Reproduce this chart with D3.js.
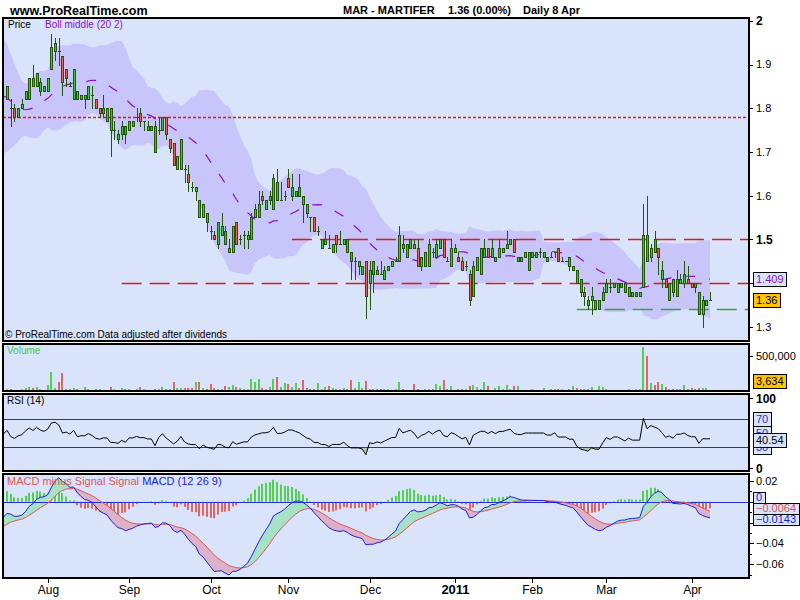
<!DOCTYPE html>
<html>
<head>
<meta charset="utf-8">
<title>MAR - MARTIFER</title>
<script src="https://cdn.jsdelivr.net/npm/d3@7/dist/d3.min.js"></script>
<style>
  html, body { margin: 0; padding: 0; background: #ffffff; }
  svg { display: block; font-family: Arial, "Liberation Sans", Helvetica, sans-serif; }
</style>
</head>
<body>
<svg id="chart" width="800" height="600"></svg>
<script>
// ---- MAR - MARTIFER, daily sessions from 16 Jul 2010 to 8 Apr 2011 ----
const firstSession = "2010-07-16";
const monthLabels = ["Aug", "Sep", "Oct", "Nov", "Dec", "2011", "Feb", "Mar", "Apr"];

const open = [
  1.82,1.80,1.80,1.78,1.80,1.82,1.82,1.87,1.85,1.84,
  1.84,1.84,1.89,1.93,1.93,1.92,1.89,1.85,1.82,1.84,
  1.82,1.82,1.82,1.83,1.82,1.80,1.79,1.77,1.80,1.75,
  1.73,1.74,1.76,1.75,1.76,1.78,1.79,1.77,1.75,1.75,
  1.76,1.75,1.75,1.78,1.73,1.72,1.66,1.66,1.66,1.65,
  1.62,1.61,1.59,1.55,1.56,1.52,1.51,1.49,1.51,1.52,
  1.47,1.47,1.54,1.50,1.51,1.50,1.50,1.55,1.55,1.60,
  1.57,1.59,1.57,1.63,1.59,1.60,1.64,1.60,1.60,1.62,
  1.60,1.58,1.55,1.55,1.52,1.48,1.49,1.48,1.47,1.51,
  1.49,1.49,1.50,1.47,1.45,1.44,1.42,1.45,1.40,1.45,
  1.42,1.42,1.41,1.43,1.44,1.45,1.45,1.49,1.46,1.48,
  1.49,1.48,1.44,1.44,1.44,1.47,1.46,1.48,1.50,1.45,
  1.44,1.48,1.46,1.45,1.44,1.42,1.37,1.43,1.42,1.46,
  1.48,1.46,1.45,1.46,1.47,1.48,1.49,1.50,1.45,1.45,
  1.46,1.43,1.46,1.46,1.47,1.46,1.45,1.46,1.47,1.48,
  1.45,1.45,1.46,1.43,1.43,1.41,1.38,1.35,1.36,1.34,
  1.34,1.36,1.38,1.39,1.39,1.38,1.40,1.40,1.37,1.37,
  1.37,1.37,1.39,1.51,1.46,1.50,1.48,1.41,1.41,1.36,
  1.41,1.37,1.40,1.40,1.41,1.40,1.40,1.38,1.33,1.35,
  1.36
];
const high = [
  1.85,1.82,1.81,1.80,1.82,1.84,1.87,1.90,1.88,1.87,
  1.85,1.87,1.97,1.96,1.96,1.92,1.89,1.86,1.89,1.84,
  1.83,1.83,1.85,1.85,1.82,1.80,1.83,1.80,1.80,1.77,
  1.75,1.77,1.76,1.77,1.77,1.80,1.80,1.77,1.77,1.76,
  1.77,1.78,1.78,1.78,1.73,1.72,1.69,1.73,1.67,1.67,
  1.63,1.62,1.59,1.58,1.56,1.53,1.52,1.54,1.56,1.53,
  1.50,1.53,1.54,1.51,1.52,1.52,1.56,1.58,1.61,1.61,
  1.59,1.61,1.65,1.66,1.63,1.61,1.66,1.65,1.61,1.65,
  1.60,1.58,1.55,1.55,1.53,1.50,1.52,1.51,1.49,1.51,
  1.52,1.50,1.50,1.47,1.46,1.45,1.44,1.45,1.45,1.45,
  1.44,1.45,1.44,1.44,1.45,1.46,1.53,1.51,1.49,1.50,
  1.50,1.50,1.46,1.47,1.50,1.48,1.50,1.50,1.50,1.46,
  1.50,1.49,1.47,1.46,1.45,1.43,1.45,1.46,1.48,1.50,
  1.48,1.50,1.46,1.50,1.48,1.52,1.50,1.50,1.46,1.46,
  1.47,1.47,1.47,1.47,1.48,1.47,1.46,1.47,1.47,1.48,
  1.46,1.45,1.46,1.44,1.43,1.41,1.39,1.37,1.39,1.36,
  1.36,1.39,1.41,1.41,1.40,1.40,1.40,1.40,1.39,1.38,
  1.38,1.38,1.58,1.60,1.49,1.52,1.48,1.45,1.41,1.40,
  1.41,1.43,1.42,1.45,1.44,1.40,1.40,1.38,1.37,1.36,
  1.38
];
const low = [
  1.82,1.76,1.77,1.78,1.80,1.82,1.82,1.85,1.85,1.83,
  1.84,1.84,1.89,1.91,1.90,1.83,1.85,1.85,1.82,1.82,
  1.82,1.80,1.82,1.80,1.80,1.78,1.78,1.77,1.69,1.73,
  1.72,1.73,1.72,1.75,1.76,1.77,1.76,1.75,1.75,1.75,
  1.70,1.74,1.75,1.73,1.70,1.67,1.66,1.66,1.63,1.61,
  1.61,1.59,1.55,1.55,1.52,1.50,1.50,1.48,1.51,1.49,
  1.47,1.47,1.49,1.49,1.48,1.48,1.50,1.55,1.55,1.58,
  1.57,1.58,1.57,1.59,1.59,1.59,1.62,1.59,1.60,1.60,
  1.54,1.55,1.52,1.52,1.51,1.48,1.49,1.48,1.47,1.47,
  1.49,1.49,1.47,1.41,1.41,1.42,1.42,1.32,1.34,1.38,
  1.42,1.42,1.41,1.43,1.44,1.45,1.45,1.47,1.46,1.48,
  1.48,1.44,1.43,1.44,1.44,1.46,1.46,1.48,1.46,1.45,
  1.44,1.47,1.45,1.43,1.43,1.35,1.37,1.43,1.42,1.46,
  1.46,1.46,1.45,1.46,1.47,1.48,1.49,1.47,1.45,1.45,
  1.46,1.43,1.46,1.46,1.46,1.46,1.45,1.46,1.46,1.45,
  1.45,1.45,1.43,1.43,1.40,1.37,1.35,1.34,1.33,1.34,
  1.34,1.36,1.38,1.38,1.39,1.38,1.39,1.38,1.37,1.37,
  1.37,1.37,1.39,1.45,1.45,1.47,1.42,1.39,1.39,1.36,
  1.37,1.37,1.40,1.39,1.40,1.39,1.38,1.33,1.30,1.35,
  1.36
];
const close = [
  1.85,1.80,1.78,1.80,1.81,1.84,1.87,1.85,1.88,1.86,
  1.85,1.87,1.94,1.95,1.93,1.86,1.87,1.85,1.89,1.82,
  1.83,1.83,1.85,1.83,1.80,1.79,1.80,1.80,1.75,1.75,
  1.74,1.76,1.74,1.77,1.77,1.78,1.77,1.77,1.76,1.76,
  1.70,1.75,1.78,1.74,1.71,1.67,1.69,1.73,1.66,1.63,
  1.62,1.62,1.55,1.58,1.54,1.52,1.50,1.54,1.53,1.49,
  1.48,1.53,1.49,1.50,1.51,1.51,1.55,1.57,1.58,1.59,
  1.59,1.60,1.64,1.59,1.59,1.60,1.62,1.62,1.61,1.60,
  1.58,1.56,1.55,1.52,1.52,1.50,1.50,1.48,1.49,1.49,
  1.49,1.50,1.47,1.45,1.45,1.45,1.44,1.37,1.43,1.42,
  1.43,1.42,1.43,1.44,1.45,1.45,1.51,1.48,1.49,1.50,
  1.48,1.44,1.46,1.47,1.49,1.47,1.49,1.50,1.46,1.45,
  1.48,1.47,1.45,1.43,1.44,1.36,1.44,1.46,1.48,1.48,
  1.46,1.48,1.46,1.48,1.48,1.49,1.50,1.47,1.46,1.46,
  1.47,1.47,1.47,1.47,1.47,1.47,1.46,1.46,1.47,1.45,
  1.45,1.45,1.44,1.44,1.40,1.38,1.37,1.36,1.37,1.36,
  1.36,1.38,1.40,1.39,1.40,1.40,1.39,1.38,1.39,1.38,
  1.38,1.38,1.51,1.45,1.48,1.47,1.46,1.43,1.39,1.40,
  1.38,1.41,1.41,1.42,1.40,1.39,1.39,1.33,1.36,1.36,
  1.36
];
const volume = [
  29000,29000,14000,14000,29000,43000,57000,43000,57000,29000,
  14000,86000,271000,43000,129000,257000,29000,29000,43000,29000,
  14000,57000,29000,14000,29000,29000,14000,14000,57000,29000,
  14000,43000,29000,29000,14000,29000,57000,29000,14000,14000,
  29000,29000,57000,29000,29000,129000,43000,43000,43000,43000,
  43000,129000,129000,43000,29000,100000,43000,29000,29000,71000,
  57000,86000,57000,43000,29000,29000,171000,129000,171000,43000,
  29000,57000,171000,200000,57000,114000,100000,57000,114000,43000,
  157000,43000,29000,29000,114000,29000,57000,71000,43000,29000,
  29000,43000,29000,157000,43000,129000,43000,143000,29000,29000,
  29000,29000,29000,29000,14000,29000,129000,29000,14000,14000,
  100000,29000,14000,29000,29000,29000,100000,71000,157000,29000,
  71000,14000,29000,29000,29000,71000,86000,57000,29000,129000,
  71000,14000,43000,71000,29000,86000,29000,71000,71000,14000,
  14000,14000,29000,14000,14000,43000,14000,29000,29000,29000,
  29000,14000,29000,71000,43000,29000,29000,29000,57000,14000,
  71000,57000,29000,14000,14000,14000,14000,14000,29000,14000,
  29000,29000,633000,500000,114000,86000,129000,100000,57000,29000,
  29000,29000,29000,86000,29000,43000,29000,43000,43000,43000,
  3634
];

// closes of the 20 sessions before the first one shown (Bollinger window)
const priorCloses = [1.94,1.95,1.94,1.92,1.90,1.87,1.84,1.80,1.77,1.75,
                     1.74,1.76,1.78,1.77,1.79,1.80,1.79,1.81,1.83,1.82];
// indicator state on the session before the first one shown
const emaSeed = { fast: 1.815, slow: 1.830, signal: -0.024 };
const rsiSeed = { gain: 0.0095, loss: 0.0100 };

// drawn support / resistance lines
const levelPrices = [1.78, 1.50, 1.40, 1.34];
const levelStart  = [null, 77, 31, 154];
const levelDash   = ["3,2", "20,8", "20,8", "20,8"];
const levelColor  = ["#dd1a1a", "#dd1a1a", "#dd1a1a", "#3c9e3c"];

// values printed on the axis tags
const lastBollMiddle = 1.409;
const lastRsi = 40.54;
const lastHist = -0.0064;
const lastMacd = -0.0143;

// ---------------------------------------------------------------
const svg = d3.select("#chart");
const L = 3, R = 749;
const P = { price: [18, 341], vol: [344, 391], rsi: [394, 471], macd: [474, 578] };

const C = {
  bg: "#d9e4fb", band: "#c8c5fa", mid: "#8a10c8",
  up: "#3cc83c", down: "#e4644e", edge: "#22560f",
  vUp: "#52d052", vDown: "#e26464",
  blue: "#2430d0", macd: "#1c1ce0", sig: "#e05454",
  fillUp: "#a8e2c6", fillDn: "#dcb2c8", rsiFill: "#a9c6b6", orange: "#ffc400"
};

const n = close.length;
const x = d3.scaleLinear().domain([0, n - 1]).range([7, 710]);
const yP = d3.scaleLinear().domain([1.3, 2.0]).range([326.7, 20.8]);
const yV = d3.scaleLinear().domain([0, 500000]).range([391, 356]);
const yR = d3.scaleLinear().domain([0, 100]).range([468.3, 398.3]);
const yM = d3.scaleLinear().domain([-0.06, 0.02]).range([564.2, 481]);

// trading sessions (weekdays) and month starts
const sessions = [];
for (let d = new Date(firstSession + "T12:00:00"); sessions.length < n; d.setDate(d.getDate() + 1)) {
  if (d.getDay() !== 0 && d.getDay() !== 6) sessions.push(new Date(d));
}
const monthStarts = [];
sessions.forEach((s, i) => { if (i > 0 && s.getMonth() !== sessions[i - 1].getMonth()) monthStarts.push(i); });

// ---- indicators ----
const allCloses = priorCloses.concat(close);
const K = priorCloses.length;
const boll = d3.range(-1, n).map(i => {
  const w = allCloses.slice(K + i - 19, K + i + 1);
  const m = d3.mean(w);
  const sd = Math.sqrt(d3.mean(w, v => (v - m) * (v - m)));
  return { i, mid: m, up: m + 2 * sd, lo: m - 2 * sd };
});

let fast = emaSeed.fast, slow = emaSeed.slow, sig = emaSeed.signal;
const macd = [{ i: -1, m: fast - slow, s: sig, h: fast - slow - sig }];
close.forEach((c, i) => {
  fast += (c - fast) * 2 / 13;
  slow += (c - slow) * 2 / 27;
  const m = fast - slow;
  sig += (m - sig) * 2 / 10;
  macd.push({ i, m, s: sig, h: m - sig });
});

let g = rsiSeed.gain, lo = rsiSeed.loss, prev = priorCloses[K - 1];
const rsi = [{ i: -1, v: 100 - 100 / (1 + g / lo) }];
close.forEach((c, i) => {
  const ch = c - prev; prev = c;
  g = (g * 13 + Math.max(ch, 0)) / 14;
  lo = (lo * 13 + Math.max(-ch, 0)) / 14;
  rsi.push({ i, v: 100 - 100 / (1 + g / lo) });
});

const isUp = i => close[i] > open[i] || (close[i] === open[i] && close[i] >= (i ? close[i - 1] : priorCloses[K - 1]));

// ---- panel helpers ----
const defs = svg.append("defs");
function panel(key) {
  const [t, b] = P[key];
  svg.append("rect").attr("x", L).attr("y", t).attr("width", R - L).attr("height", b - t).attr("fill", C.bg);
  defs.append("clipPath").attr("id", "clip-" + key)
    .append("rect").attr("x", L).attr("y", t).attr("width", R - L).attr("height", b - t);
  return svg.append("g").attr("clip-path", `url(#clip-${key})`);
}
function frame(key) {
  const [t, b] = P[key];
  svg.append("rect").attr("x", L).attr("y", t).attr("width", R - L).attr("height", b - t)
    .attr("fill", "none").attr("stroke", "#000").attr("stroke-width", 2);
}
function tick(y, len) {
  svg.append("line").attr("x1", R).attr("x2", R + len).attr("y1", Math.round(y) + 0.5).attr("y2", Math.round(y) + 0.5)
    .attr("stroke", "#000").attr("stroke-width", 1);
}
function axisText(y, txt, bold, size) {
  svg.append("text").attr("x", 756).attr("y", y).attr("dy", "0.36em")
    .attr("font-size", size || 11).attr("font-weight", bold ? "bold" : "normal").attr("fill", "#000").text(txt);
}
function tag(y, txt, fill, color, size, h) {
  const gT = svg.append("g");
  const r = gT.append("rect").attr("fill", fill).attr("stroke", "#000").attr("stroke-width", 1);
  const t = gT.append("text").attr("x", 756).attr("y", y).attr("dy", "0.36em")
    .attr("font-size", size).attr("fill", color).text(txt);
  const w = t.node().getComputedTextLength();
  r.attr("x", 753.5).attr("y", Math.round(y - h / 2) + 0.5).attr("width", Math.ceil(w) + 5).attr("height", h);
}

// ---- header ----
svg.append("text").attr("x", 10).attr("y", 15).attr("font-size", 12.5).attr("font-weight", "bold").text("www.ProRealTime.com");
const head = svg.append("text").attr("y", 14).attr("font-size", 11).attr("font-weight", "bold");
head.append("tspan").attr("x", 343).text("MAR - MARTIFER");
head.append("tspan").attr("x", 448).text("1.36 (0.00%)");
head.append("tspan").attr("x", 523).text("Daily  8 Apr");

// ---- price panel ----
const gP = panel("price");
gP.append("path").datum(boll)
  .attr("fill", C.band)
  .attr("d", d3.area().x(d => x(d.i)).y0(d => yP(d.lo)).y1(d => yP(d.up)));

levelPrices.forEach((p, k) => {
  const y = Math.round(yP(p)) + 0.5;
  gP.append("line")
    .attr("x1", levelStart[k] === null ? L : x(levelStart[k])).attr("x2", R)
    .attr("y1", y).attr("y2", y)
    .attr("stroke", levelColor[k]).attr("stroke-width", 1.4).attr("stroke-dasharray", levelDash[k]);
});

gP.append("path").datum(boll)
  .attr("fill", "none").attr("stroke", C.mid).attr("stroke-width", 1.2).attr("stroke-dasharray", "10,14")
  .attr("d", d3.line().x(d => x(d.i)).y(d => yP(d.mid)));

const candles = gP.append("g").selectAll("g").data(d3.range(n)).join("g");
candles.append("line")
  .attr("x1", i => Math.round(x(i)) + 0.5).attr("x2", i => Math.round(x(i)) + 0.5)
  .attr("y1", i => Math.round(yP(high[i]))).attr("y2", i => Math.round(yP(low[i])) + 1)
  .attr("stroke", C.edge).attr("stroke-width", 1);
candles.filter(i => open[i] !== close[i]).append("rect")
  .attr("x", i => Math.round(x(i)) - 0.5).attr("width", 2)
  .attr("y", i => Math.round(yP(Math.max(open[i], close[i]))) + 0.5)
  .attr("height", i => Math.max(1, Math.round(yP(Math.min(open[i], close[i]))) - Math.round(yP(Math.max(open[i], close[i])))))
  .attr("fill", i => close[i] > open[i] ? C.up : C.down)
  .attr("stroke", C.edge).attr("stroke-width", 1);
candles.filter(i => open[i] === close[i]).append("line")
  .attr("x1", i => Math.round(x(i)) - 1).attr("x2", i => Math.round(x(i)) + 2)
  .attr("y1", i => Math.round(yP(close[i])) + 0.5).attr("y2", i => Math.round(yP(close[i])) + 0.5)
  .attr("stroke", C.edge).attr("stroke-width", 1);

svg.append("text").attr("x", 8).attr("y", 28).attr("font-size", 10).text("Price");
svg.append("text").attr("x", 45).attr("y", 28).attr("font-size", 10).attr("fill", C.mid).text("Boll middle (20 2)");
svg.append("text").attr("x", 5).attr("y", 338).attr("font-size", 10).text("\u00A9 ProRealTime.com  Data adjusted after dividends");
frame("price");

const priceTags = [lastBollMiddle, close[n - 1]];
d3.range(13, 21).forEach(k => {
  const v = k / 10;
  tick(yP(v), 4);
  // a level label that sits under one of the tags stays hidden
  if (priceTags.some(t => Math.abs(yP(t) - yP(v)) < 9)) return;
  axisText(yP(v), v === 2 ? "2" : v.toFixed(1), (k % 5 === 0), (k % 5 === 0) ? 12 : 11);
});
tag(yP(lastBollMiddle), lastBollMiddle.toFixed(3), C.bg, C.mid, 11, 14);
tag(yP(close[n - 1]), close[n - 1].toFixed(2), C.orange, "#000", 11, 14);

// ---- volume panel ----
const gV = panel("vol");
gV.selectAll("rect").data(d3.range(n)).join("rect")
  .attr("x", i => Math.round(x(i)) - 1).attr("width", 2)
  .attr("y", i => Math.min(390, Math.round(yV(volume[i]))))
  .attr("height", i => Math.max(1, 391 - Math.min(390, Math.round(yV(volume[i])))))
  .attr("fill", i => isUp(i) ? C.vUp : C.vDown);
svg.append("text").attr("x", 7).attr("y", 354).attr("font-size", 10).attr("fill", "#4cc44c").text("Volume");
frame("vol");
tick(yV(500000), 4);
axisText(yV(500000), d3.format(",")(500000), false, 11);
tag(Math.min(yV(volume[n - 1]), P.vol[1] - 10), d3.format(",")(volume[n - 1]), C.orange, "#000", 11, 14);

// ---- RSI panel ----
const gR = panel("rsi");
defs.append("clipPath").attr("id", "rsi-low").append("rect")
  .attr("x", L).attr("y", yR(30)).attr("width", R - L).attr("height", P.rsi[1] - yR(30));
defs.append("clipPath").attr("id", "rsi-high").append("rect")
  .attr("x", L).attr("y", P.rsi[0]).attr("width", R - L).attr("height", yR(70) - P.rsi[0]);
gR.append("path").datum(rsi).attr("clip-path", "url(#rsi-low)").attr("fill", C.rsiFill)
  .attr("d", d3.area().x(d => x(d.i)).y0(yR(30)).y1(d => yR(d.v)));
gR.append("path").datum(rsi).attr("clip-path", "url(#rsi-high)").attr("fill", C.rsiFill)
  .attr("d", d3.area().x(d => x(d.i)).y0(yR(70)).y1(d => yR(d.v)));
[70, 30].forEach(v => gR.append("line").attr("x1", L).attr("x2", R)
  .attr("y1", Math.round(yR(v)) + 0.5).attr("y2", Math.round(yR(v)) + 0.5)
  .attr("stroke", C.blue).attr("stroke-width", 1));
gR.append("path").datum(rsi).attr("fill", "none").attr("stroke", "#000").attr("stroke-width", 1)
  .attr("d", d3.line().x(d => x(d.i)).y(d => yR(d.v)));
svg.append("text").attr("x", 7).attr("y", 404).attr("font-size", 10).text("RSI (14)");
frame("rsi");
[100, 0].forEach(v => { tick(yR(v), 4); axisText(yR(v), String(v), true, 12); });
[70, 50, 30].forEach(v => tag(yR(v), String(v), C.bg, C.blue, 11, 14));
tag(yR(lastRsi), lastRsi.toFixed(2), C.bg, "#000", 11, 14);

// ---- MACD panel ----
const gM = panel("macd");
const zeroY = Math.round(yM(0)) + 0.5;
gM.selectAll("rect.h").data(macd.filter(d => d.i >= 0)).join("rect").attr("class", "h")
  .attr("x", d => Math.round(x(d.i)) - 1).attr("width", 2)
  .attr("y", d => Math.min(yM(d.h), yM(0)))
  .attr("height", d => Math.abs(yM(d.h) - yM(0)))
  .attr("fill", d => d.h >= 0 ? C.vUp : C.vDown);
defs.append("clipPath").attr("id", "sig-above").append("path").datum(macd)
  .attr("d", d3.area().x(d => x(d.i)).y0(P.macd[0]).y1(d => yM(d.s)));
defs.append("clipPath").attr("id", "sig-below").append("path").datum(macd)
  .attr("d", d3.area().x(d => x(d.i)).y0(P.macd[1]).y1(d => yM(d.s)));
const between = d3.area().x(d => x(d.i)).y0(d => yM(d.s)).y1(d => yM(d.m));
gM.append("path").datum(macd).attr("clip-path", "url(#sig-above)").attr("fill", C.fillUp).attr("d", between);
gM.append("path").datum(macd).attr("clip-path", "url(#sig-below)").attr("fill", C.fillDn).attr("d", between);
gM.append("line").attr("x1", L).attr("x2", R).attr("y1", zeroY).attr("y2", zeroY).attr("stroke", C.blue).attr("stroke-width", 1);
gM.append("path").datum(macd).attr("fill", "none").attr("stroke", C.sig).attr("stroke-width", 1)
  .attr("d", d3.line().x(d => x(d.i)).y(d => yM(d.s)));
gM.append("path").datum(macd).attr("fill", "none").attr("stroke", C.macd).attr("stroke-width", 1)
  .attr("d", d3.line().x(d => x(d.i)).y(d => yM(d.m)));
const leg = svg.append("text").attr("x", 7).attr("y", 485).attr("font-size", 11);
leg.append("tspan").attr("fill", C.sig).text("MACD minus Signal Signal ");
leg.append("tspan").attr("fill", C.macd).text("MACD (12 26 9)");
frame("macd");
d3.range(2, -8, -1).forEach(k => {
  const v = k / 100;
  tick(yM(v), k % 2 === 0 ? 5 : 3);
  if (k === 2 || k === -4 || k === -6) axisText(yM(v), v.toFixed(2).replace("-", "\u2212"), false, 11);
});
// tags: histogram sits at its value, the others step aside
const hY = yM(lastHist), bh = 11;
const zY = Math.min(yM(0), hY - bh);
const mY = Math.max(yM(lastMacd), hY + bh);
tag(mY, lastMacd.toFixed(4).replace("-", "\u2212"), C.bg, C.macd, 11, bh);
tag(zY, "0", C.bg, C.macd, 11, bh);
tag(hY, lastHist.toFixed(4).replace("-", "\u2212"), C.bg, C.sig, 11, bh);

// ---- time axis ----
monthStarts.forEach((i, k) => {
  const xx = Math.round(x(i)) + 0.5;
  svg.append("line").attr("x1", xx).attr("x2", xx).attr("y1", P.macd[1]).attr("y2", P.macd[1] + 5)
    .attr("stroke", "#000").attr("stroke-width", 1);
  const yr = /^\d{4}$/.test(monthLabels[k]);
  svg.append("text").attr("x", xx).attr("y", 594).attr("text-anchor", "middle")
    .attr("font-size", yr ? 13 : 12).attr("font-weight", yr ? "bold" : "normal").text(monthLabels[k]);
});
</script>
</body>
</html>
